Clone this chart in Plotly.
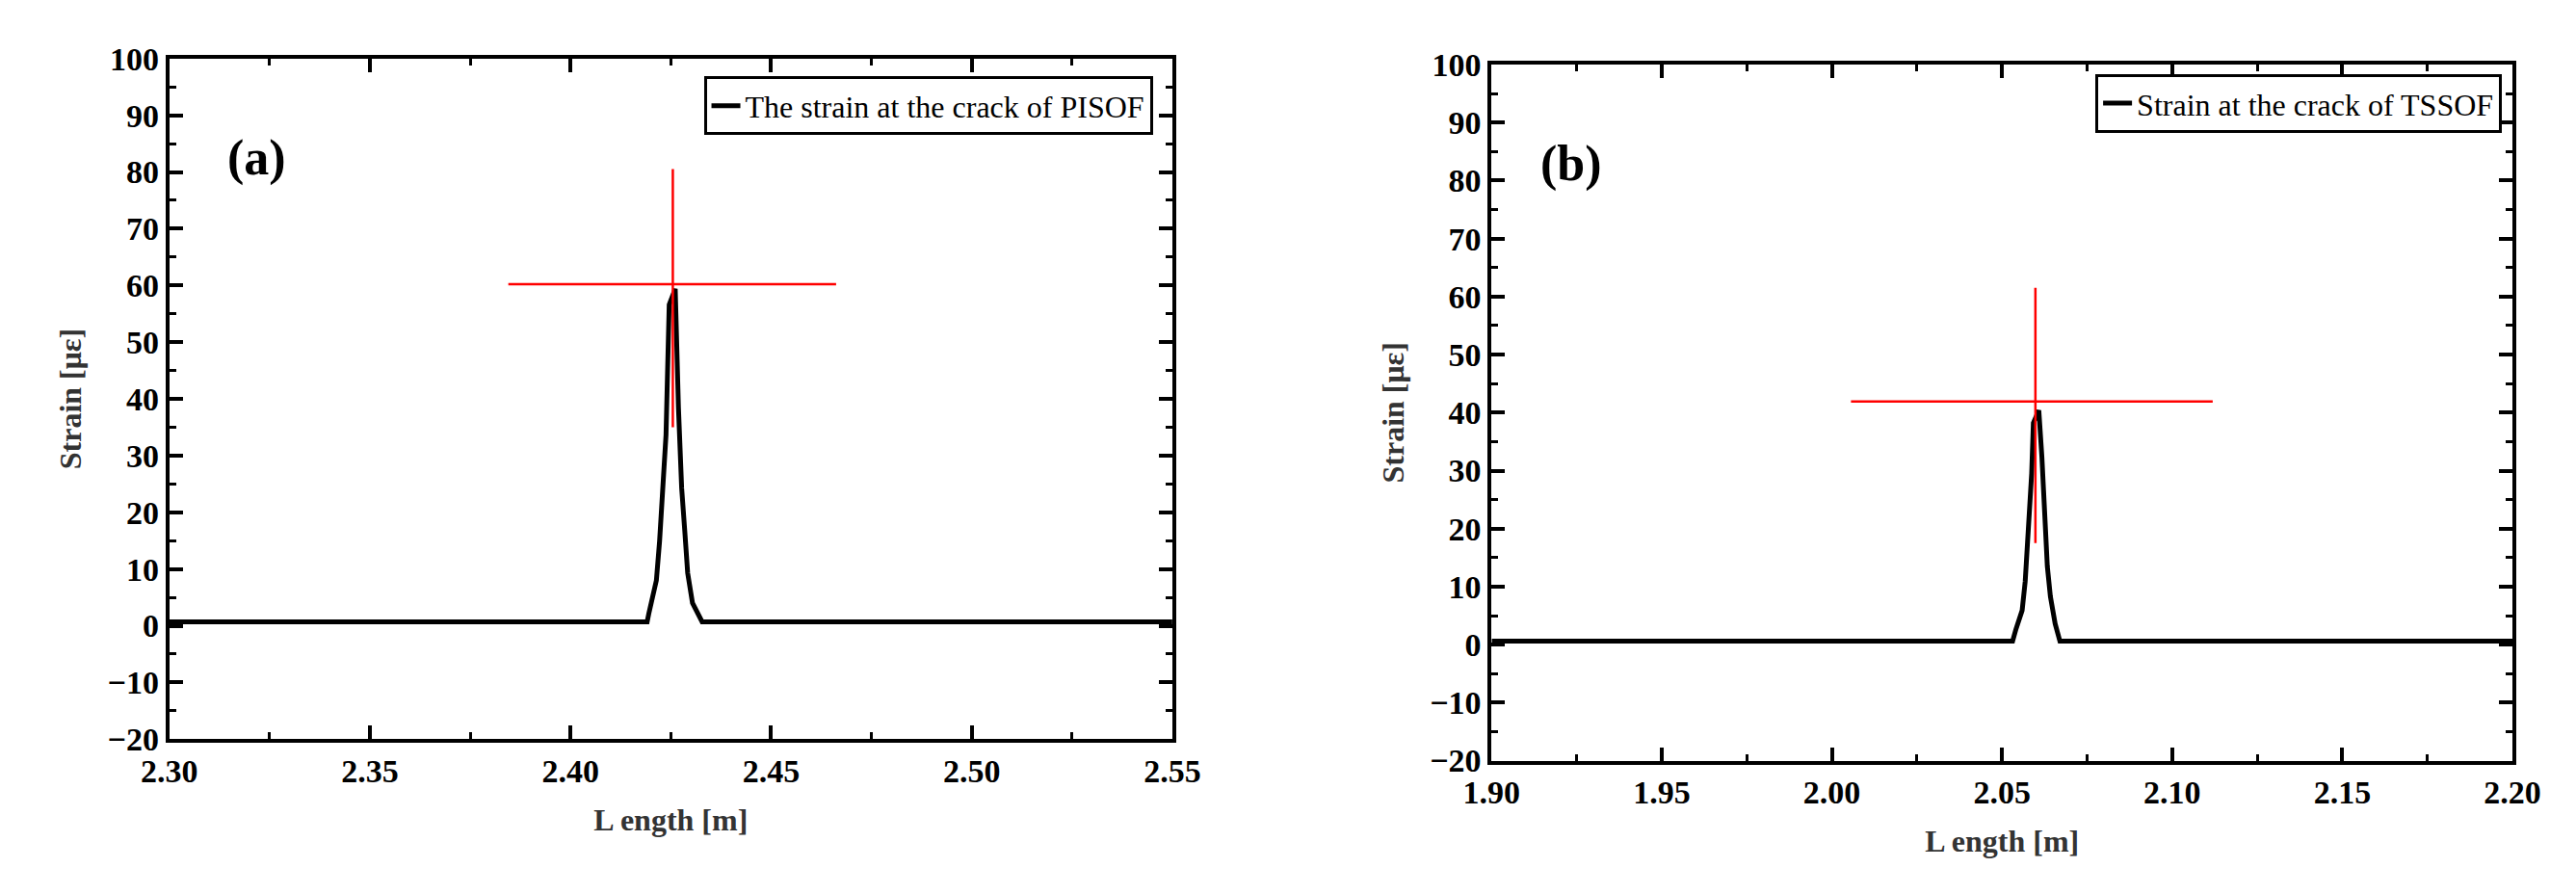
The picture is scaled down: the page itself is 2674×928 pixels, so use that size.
import plotly.graph_objects as go

# panel (a): PISOF
len_a = [2.30, 2.4191, 2.4195, 2.4214, 2.4222, 2.4230, 2.4238, 2.4246, 2.4261,
         2.4269, 2.4277, 2.4285, 2.4292, 2.4304, 2.4328, 2.55]
strain_a = [0.7, 0.7, 2.1, 8.0, 14.9, 23.0, 33.6, 56.6, 59.4,
            38.5, 24.3, 16.5, 9.3, 4.0, 0.7, 0.7]
cross_a_x = [2.3845, 2.4662]
cross_a_y = 60.2
cross_a_vx = 2.4255
cross_a_vy = [35.0, 80.5]

# panel (b): TSSOF
len_b = [1.90, 2.0531, 2.0541, 2.0559, 2.0568, 2.0578, 2.0587, 2.0592, 2.0608,
         2.0617, 2.0624, 2.0633, 2.0642, 2.0656, 2.0670, 2.20]
strain_b = [0.6, 0.6, 2.7, 5.9, 10.9, 19.9, 29.5, 38.2, 40.4,
            32.4, 23.4, 13.5, 8.3, 3.6, 0.6, 0.6]
cross_b_x = [2.0056, 2.1119]
cross_b_y = 41.9
cross_b_vx = 2.0598
cross_b_vy = [17.5, 61.5]

FONT = "Liberation Serif"

fig = go.Figure()
fig.add_trace(go.Scatter(x=len_a, y=strain_a, mode="lines", line=dict(color="black", width=5),
                         name="The strain at the crack of PISOF", legend="legend"))
fig.add_trace(go.Scatter(x=cross_a_x, y=[cross_a_y] * 2, mode="lines",
                         line=dict(color="red", width=2.5), showlegend=False))
fig.add_trace(go.Scatter(x=[cross_a_vx] * 2, y=cross_a_vy, mode="lines",
                         line=dict(color="red", width=2.5), showlegend=False))

fig.add_trace(go.Scatter(x=len_b, y=strain_b, mode="lines", line=dict(color="black", width=5),
                         name="Strain at the crack of TSSOF", xaxis="x2", yaxis="y2", legend="legend2"))
fig.add_trace(go.Scatter(x=cross_b_x, y=[cross_b_y] * 2, mode="lines", xaxis="x2", yaxis="y2",
                         line=dict(color="red", width=2.5), showlegend=False))
fig.add_trace(go.Scatter(x=[cross_b_vx] * 2, y=cross_b_vy, mode="lines", xaxis="x2", yaxis="y2",
                         line=dict(color="red", width=2.5), showlegend=False))

axis_common = dict(showline=True, linecolor="black", linewidth=4, mirror="ticks", ticks="inside",
                   ticklen=14, tickwidth=4, tickcolor="black", showgrid=False, zeroline=False,
                   tickfont=dict(family=FONT, size=34, color="black", weight="bold"),
                   minor=dict(ticks="inside", ticklen=7, tickwidth=3, tickcolor="black"))


def xax(lo, hi, dom, anchor):
    return dict(axis_common, range=[lo, hi], domain=dom, anchor=anchor, dtick=0.05, tickformat=".2f",
                minor=dict(axis_common["minor"], dtick=0.025),
                title=dict(text="<b>L ength [m]</b>", font=dict(family=FONT, size=32, color="#333"),
                           standoff=22))


def yax(dom, anchor):
    return dict(axis_common, range=[-20, 100], domain=dom, anchor=anchor, dtick=10,
                minor=dict(axis_common["minor"], dtick=5),
                title=dict(text="<b>Strain [με]</b>", font=dict(family=FONT, size=32, color="#333"),
                           standoff=18))


fig.update_layout(
    width=2674, height=928, plot_bgcolor="white", paper_bgcolor="white",
    margin=dict(l=0, r=0, t=0, b=0),
    separators=".-",
    xaxis=xax(2.30, 2.55, [0.0527, 0.451], "y"),
    yaxis=yax([0.168, 0.961], "x"),
    xaxis2=xax(1.90, 2.20, [0.5778, 0.9832], "y2"),
    yaxis2=yax([0.143, 0.954], "x2"),
    legend=dict(x=0.4432, y=0.94, xanchor="right", yanchor="top", bordercolor="black", borderwidth=3,
                bgcolor="white", font=dict(family=FONT, size=32, color="black")),
    legend2=dict(x=0.979, y=0.943, xanchor="right", yanchor="top", bordercolor="black", borderwidth=3,
                 bgcolor="white", font=dict(family=FONT, size=32, color="black")),
    annotations=[
        dict(text="<b>(a)</b>", x=200 / 2674, y=1 - 111 / 928, xref="paper", yref="paper",
             showarrow=False, font=dict(family=FONT, size=52, color="black")),
        dict(text="<b>(b)</b>", x=1630 / 2674, y=1 - 118 / 928, xref="paper", yref="paper",
             showarrow=False, font=dict(family=FONT, size=52, color="black")),
    ],
)

fig.write_html("out.html")
